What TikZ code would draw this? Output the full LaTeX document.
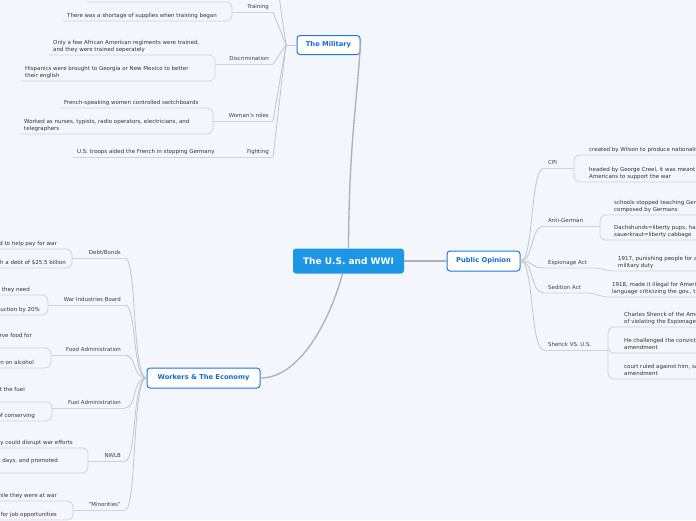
\documentclass[tikz,border=0pt]{standalone}
\usepackage{fontspec}
\setmainfont{DejaVu Sans}
\definecolor{bgc}{RGB}{243,246,253}
\definecolor{rootblue}{RGB}{30,150,230}
\definecolor{topicblue}{RGB}{30,120,220}
\definecolor{topictext}{RGB}{20,110,210}
\definecolor{labgray}{RGB}{60,60,60}
\definecolor{txtgray}{RGB}{50,50,50}
\definecolor{ulgray}{RGB}{208,210,218}
\definecolor{hubgray}{RGB}{195,197,205}
\definecolor{maingray}{RGB}{175,175,180}
\tikzset{
  rootnode/.style={fill=rootblue, rounded corners=3pt, text=white, font=\fontsize{9}{11}\selectfont\bfseries, minimum width=111pt, minimum height=25pt, inner sep=0pt},
  topic/.style={fill=white, draw=topicblue, line width=1pt, rounded corners=3pt, text=topictext, font=\fontsize{6.7}{8}\selectfont\bfseries, minimum height=19pt, inner sep=0pt},
  lab/.style={font=\fontsize{5.45}{7}\selectfont, text=labgray, inner xsep=4pt, inner ysep=2.3pt, text depth=1.2pt},
  ctext/.style={font=\fontsize{5.5}{7}\selectfont, text=txtgray, align=left, inner xsep=4pt, inner ysep=2.3pt, text depth=1.2pt},
  ul/.style={draw=ulgray, line width=0.8pt, rounded corners=6pt},
  hub/.style={draw=hubgray, line width=0.8pt},
  mainln/.style={draw=maingray, line width=1.3pt},
}
\begin{document}
\begin{tikzpicture}[x=1pt,y=-1pt]
\path[use as bounding box, fill=bgc] (0,0) rectangle (696,520);
\clip (0,0) rectangle (696,520);

% main nodes
\node[rootnode] (root) at (348.5,261) {The U.S. and WWI};
\node[topic, minimum width=63pt] (mil) at (328.5,45) {The Military};
\node[topic, minimum width=73pt, minimum height=20pt] (po) at (483.5,261) {Public Opinion};
\node[topic, minimum width=113pt, minimum height=20pt] (wk) at (203.5,378) {Workers \& The Economy};

\draw[mainln] (root.north) .. controls (349,150) and (356,110) .. (mil.east);
\draw[mainln] (root.east) -- (po.west);
\draw[mainln] ([xshift=-6pt]root.south) .. controls (330,320) and (300,378) .. (wk.east);

% ---------------- The Military ----------------
\coordinate (mh) at (286,45);
\coordinate (mtop) at (279,-4);
\draw[hub] (mil.west) -- (mh);
\draw[hub] (mh) -- (mtop);
\node[lab, anchor=south east] (train) at (273,12) {Training};
\node[lab, anchor=south east] (disc) at (273,64) {Discrimination};
\node[lab, anchor=south east] (women) at (273,121) {Woman's roles};
\node[lab, anchor=south east] (fight) at (273,157) {Fighting};
\foreach \n in {train,disc,women,fight} \draw[hub] (\n.south east) -- (mh);

\coordinate (trB) at (232,12);
\coordinate (tr1) at (87,2);
\node[ctext, anchor=south west] (tr2) at (63,21) {There was a shortage of supplies when training began};
\draw[ul] (trB) -- (train.south east);
\draw[ul] (tr1) -- (232,2) -- (trB);
\draw[ul] (tr2.south west) -- (232,21) -- (trB);

\coordinate (dB) at (215,64);
\node[ctext, anchor=south west] (d1) at (49,55) {Only a few African American regiments were trained,\\and they were trained seperately};
\node[ctext, anchor=south west] (d2) at (21,81) {Hispanics were brought to Georgia or New Mexico to better\\their english};
\draw[ul] (dB) -- (disc.south east);
\draw[ul] (d1.south west) -- (215,55) -- (dB);
\draw[ul] (d2.south west) -- (215,81) -- (dB);

\coordinate (wB) at (213,121);
\node[ctext, anchor=south west] (w1) at (60,108) {French-speaking women controlled switchboards};
\node[ctext, anchor=south west] (w2) at (20,134) {Worked as nurses, typists, radio operators, electricians, and\\telegraphers};
\draw[ul] (wB) -- (women.south east);
\draw[ul] (w1.south west) -- (213,108) -- (wB);
\draw[ul] (w2.south west) -- (213,134) -- (wB);

\node[ctext, anchor=south west] (f1) at (73,157) {U.S. troops aided the French in stopping Germany};
\draw[ul] (f1.south west) -- (fight.south east);

% ---------------- Public Opinion ----------------
\node[lab, anchor=south west] (cpi) at (544,168) {CPI};
\node[lab, anchor=south west] (anti) at (544,226) {Anti-German};
\node[lab, anchor=south west] (esp) at (544,268) {Espionage Act};
\node[lab, anchor=south west] (sed) at (544,293) {Sedition Act};
\node[lab, anchor=south west] (shen) at (544,350) {Shenck VS. U.S.};
\draw[hub] (po.east) .. controls (534,261) and (530,168) .. (cpi.south west);
\draw[hub] (po.east) .. controls (534,261) and (530,226) .. (anti.south west);
\draw[hub] (po.east) .. controls (534,261) and (530,268) .. (esp.south west);
\draw[hub] (po.east) .. controls (534,261) and (530,293) .. (sed.south west);
\draw[hub] (po.east) .. controls (534,261) and (530,350) .. (shen.south west);

\coordinate (cpiB) at (574,168);
\node[ctext, anchor=south west] (c1) at (585,155) {created by Wilson to produce nationalism};
\node[ctext, anchor=south west] (c2) at (585,182) {headed by George Creel, it was meant to convince\\Americans to support the war};
\draw[ul] (cpi.south west) -- (cpiB);
\draw[ul] (cpiB) -- (574,155) -- (c1.south east);
\draw[ul] (cpiB) -- (574,182) -- (c2.south east);

\coordinate (agB) at (600,226);
\node[ctext, anchor=south west] (a1) at (610,215) {schools stopped teaching German, and music\\composed by Germans};
\node[ctext, anchor=south west] (a2) at (610,240) {Dachshunds=liberty pups, hamburgers=liberty steak,\\sauerkraut=liberty cabbage};
\draw[ul] (anti.south west) -- (agB);
\draw[ul] (agB) -- (600,215) -- (a1.south east);
\draw[ul] (agB) -- (600,240) -- (a2.south east);

\node[ctext, anchor=south west] (e1) at (614,271) {1917, punishing people for avoiding the draft or\\military duty};
\draw[ul] (esp.south west) -- (600,268) -- (608,271) -- (e1.south east);

\node[ctext, anchor=south west] (s1) at (608,297) {1918, made it illegal for Americans to use disloyal\\language criticizing the gov., the flag, or the military};
\draw[ul] (sed.south west) -- (594,293) -- (602,297) -- (s1.south east);

\coordinate (shB) at (608,350);
\node[ctext, anchor=south west] (h1) at (620,327) {Charles Shenck of the American Socialist Party was accused\\of violating the Espionage Act};
\node[ctext, anchor=south west] (h2) at (620,353) {He challenged the conviction, saying it violated the first\\amendment};
\node[ctext, anchor=south west] (h3) at (620,379) {court ruled against him, saying it was not protected by the first\\amendment};
\draw[ul] (shen.south west) -- (shB);
\draw[ul] (shB) -- (608,327) -- (h1.south east);
\draw[ul] (shB) -- (608,353) -- (h2.south east);
\draw[ul] (shB) -- (608,379) -- (h3.south east);

% ---------------- Workers & The Economy ----------------
\node[lab, anchor=south east] (debt) at (125,258) {Debt/Bonds};
\node[lab, anchor=south east] (wib) at (125,305) {War Industries Board};
\node[lab, anchor=south east] (food) at (125,355) {Food Administration};
\node[lab, anchor=south east] (fuel) at (125,408) {Fuel Administration};
\node[lab, anchor=south east] (nwlb) at (125,461) {NWLB};
\node[lab, anchor=south east] (mino) at (125,510) {"Minorities"};
\foreach \n/\y in {debt/258,wib/305,food/355,fuel/408,nwlb/461,mino/510}
  \draw[hub] (\n.south east) .. controls (137,\y) and (132,378) .. (wk.west);

\coordinate (dbB) at (72,258);
\node[ctext, anchor=south east] (db1) at (61,249) {Liberty Bonds were sold to help pay for war};
\node[ctext, anchor=south east] (db2) at (70,268) {The U.S. was left with a debt of \$25.5 billion};
\draw[ul] (dbB) -- (debt.south east);
\draw[ul] (db1.south west) -- (72,249) -- (dbB);
\draw[ul] (db2.south west) -- (72,268) -- (dbB);

\coordinate (wiB) at (48,305);
\node[ctext, anchor=south east] (wi1) at (34,295) {Helped businesses get the materials they need};
\node[ctext, anchor=south east] (wi2) at (44,315) {Increased industrial production by 20\%};
\draw[ul] (wiB) -- (wib.south east);
\draw[ul] (wi1.south west) -- (48,295) -- (wiB);
\draw[ul] (wi2.south west) -- (48,315) -- (wiB);

\coordinate (foB) at (51,355);
\node[ctext, anchor=south east] (fo1) at (36,348) {Encouraged Americans to conserve food for\\soldiers};
\node[ctext, anchor=south east] (fo2) at (38,368) {Placed a restriction on alcohol};
\draw[ul] (foB) -- (food.south east);
\draw[ul] (fo1.south west) -- (51,348) -- (foB);
\draw[ul] (fo2.south west) -- (51,368) -- (foB);

\coordinate (fuB) at (52,408);
\node[ctext, anchor=south east] (fu1) at (29,402) {Rationed coal and oil so the military got the fuel\\it needed};
\node[ctext, anchor=south east] (fu2) at (39,421) {Introduced daylight savings time as a way of conserving};
\draw[ul] (fuB) -- (fuel.south east);
\draw[ul] (fu1.south west) -- (52,402) -- (fuB);
\draw[ul] (fu2.south west) -- (52,421) -- (fuB);

\coordinate (nwB) at (88,461);
\node[ctext, anchor=south east] (nw1) at (77,448) {Stopped strikes because they could disrupt war efforts};
\node[ctext, anchor=south east] (nw2) at (62,473) {Improved working conditions, shortened work days, and promoted\\unions};
\draw[ul] (nwB) -- (nwlb.south east);
\draw[ul] (nw1.south west) -- (88,448) -- (nwB);
\draw[ul] (nw2.south west) -- (88,473) -- (nwB);

\coordinate (miB) at (73,510);
\node[ctext, anchor=south east] (mi1) at (61,501) {Women took over jobs for men while they were at war};
\node[ctext, anchor=south east] (mi2) at (61,520) {African Americans moved north for job opportunities};
\draw[ul] (miB) -- (mino.south east);
\draw[ul] (mi1.south west) -- (73,501) -- (miB);
\draw[ul] (mi2.south west) -- (73,520) -- (miB);
\end{tikzpicture}
\end{document}
